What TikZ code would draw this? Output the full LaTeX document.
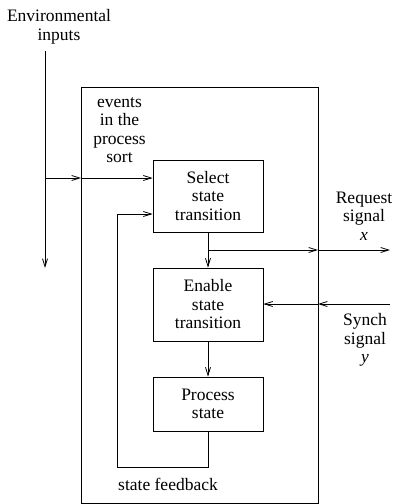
\documentclass[tikz,border=0pt]{standalone}
\usepackage{fontspec}
\setmainfont{Liberation Serif}
\usetikzlibrary{arrows.meta,positioning}

\tikzset{
  statebox/.style={draw, thick, minimum width=110pt, text width=104pt, align=center, inner sep=2pt},
  lbl/.style={align=center, inner sep=0pt},
  sig/.style={-{Straight Barb[length=8pt,width=5pt]}, thick},
  every node/.style={font=\fontsize{17.5}{18.5}\selectfont}
}

\begin{document}
\begin{tikzpicture}[x=1pt,y=-1pt]
  \useasboundingbox (0,0) rectangle (396,504);
  % process frame
  \draw[thick] (81,87) rectangle (318,503);

  % the three state boxes
  \node[statebox, minimum height=72pt] (select) at (208,196) {Select\\state\\transition};
  \node[statebox, minimum height=73pt] (enable) at (208,304.5) {Enable\\state\\transition};
  \node[statebox, minimum height=54pt] (process) at (208,404) {Process\\state};

  % labels
  \node[lbl] (env) at (59,27) {Environmental\\inputs};
  \node[lbl, anchor=north] (events) at (119.5,97) {events\\in the\\process\\sort};
  \node[lbl] (request) at (364,216) {Request\\signal\\\textit{x}};
  \node[lbl] (synch) at (365,340) {Synch\\signal\\\textit{y}};
  \node[lbl, anchor=west] (fbtext) at (118,484) {state feedback};

  % coordinates
  \coordinate (envtop) at (45,51);
  \coordinate (envbot) at (45,268);
  \coordinate (envsplit) at (45,178);
  \coordinate (inedge) at (81,178);
  \coordinate (reqsplit) at (208,250);
  \coordinate (reqedge) at (318,250);
  \coordinate (reqend) at (390,250);
  \coordinate (synstart) at (390,304);
  \coordinate (synedge) at (318,304);
  \coordinate (fbA) at (208,467);
  \coordinate (fbB) at (117,467);
  \coordinate (fbC) at (117,214);

  % connectors
  \draw[sig] (envtop) -- (envbot);
  \draw[sig] (envsplit) -- (inedge);
  \draw[sig] (inedge) -- (select.west |- inedge);
  \draw[sig] (select.south) -- (enable.north);
  \draw[sig] (reqsplit) -- (reqedge);
  \draw[sig] (reqedge) -- (reqend);
  \draw[sig] (synstart) -- (synedge);
  \draw[sig] (synedge) -- (enable.east |- synedge);
  \draw[sig] (enable.south) -- (process.north);
  \draw[sig] (process.south) -- (fbA) -- (fbB) -- (fbC) -- (select.west |- fbC);
\end{tikzpicture}
\end{document}
